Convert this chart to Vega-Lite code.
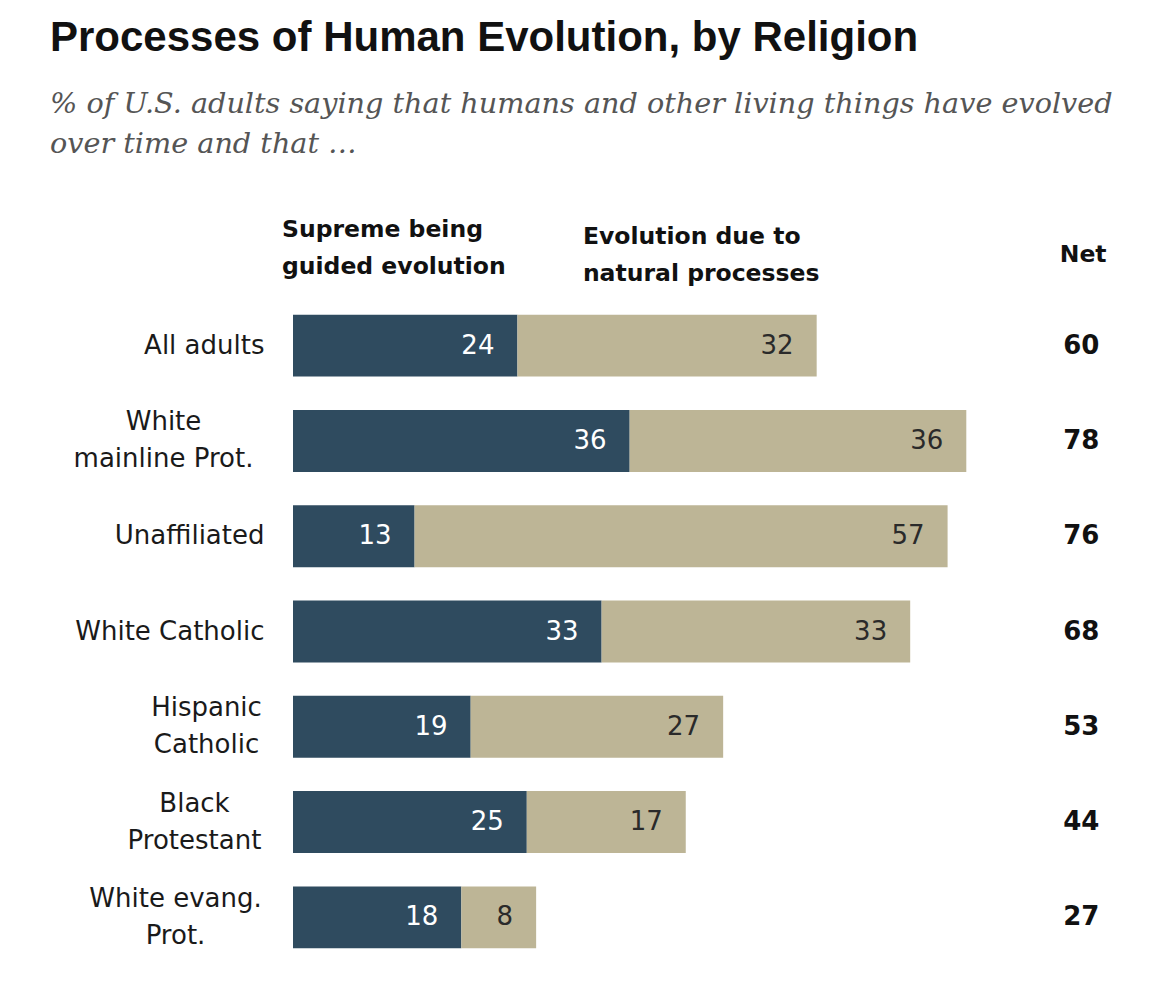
{
  "$schema": "https://vega.github.io/schema/vega-lite/v6.json",
  "width": 865,
  "height": 667,
  "autosize": {"type": "none"},
  "padding": {"left": 293, "top": 298, "right": 0, "bottom": 20},
  "background": "white",
  "config": {"view": {"stroke": null}, "text": {"font": "DejaVu Sans"}},
  "title": {
    "text": "Processes of Human Evolution, by Religion",
    "subtitle": ["% of U.S. adults saying that humans and other living things have evolved", "over time and that …"],
    "anchor": "start",
    "frame": "group",
    "dx": -243,
    "offset": 58,
    "font": "Liberation Sans",
    "fontSize": 42,
    "fontWeight": "bold",
    "color": "#111111",
    "subtitleFont": "DejaVu Serif",
    "subtitleFontStyle": "italic",
    "subtitleFontSize": 28.7,
    "subtitleColor": "#555555",
    "subtitleLineHeight": 40,
    "subtitlePadding": 30
  },
  "datasets": {
    "bars": [
      {"group": "All adults", "series": "Supreme being guided evolution", "order": 1, "value": 24},
      {"group": "All adults", "series": "Evolution due to natural processes", "order": 2, "value": 32},
      {"group": "White|mainline Prot.", "series": "Supreme being guided evolution", "order": 1, "value": 36},
      {"group": "White|mainline Prot.", "series": "Evolution due to natural processes", "order": 2, "value": 36},
      {"group": "Unaffiliated", "series": "Supreme being guided evolution", "order": 1, "value": 13},
      {"group": "Unaffiliated", "series": "Evolution due to natural processes", "order": 2, "value": 57},
      {"group": "White Catholic", "series": "Supreme being guided evolution", "order": 1, "value": 33},
      {"group": "White Catholic", "series": "Evolution due to natural processes", "order": 2, "value": 33},
      {"group": "Hispanic|Catholic", "series": "Supreme being guided evolution", "order": 1, "value": 19},
      {"group": "Hispanic|Catholic", "series": "Evolution due to natural processes", "order": 2, "value": 27},
      {"group": "Black|Protestant", "series": "Supreme being guided evolution", "order": 1, "value": 25},
      {"group": "Black|Protestant", "series": "Evolution due to natural processes", "order": 2, "value": 17},
      {"group": "White evang.|Prot.", "series": "Supreme being guided evolution", "order": 1, "value": 18},
      {"group": "White evang.|Prot.", "series": "Evolution due to natural processes", "order": 2, "value": 8}
    ],
    "net": [
      {"group": "All adults", "net": 60},
      {"group": "White|mainline Prot.", "net": 78},
      {"group": "Unaffiliated", "net": 76},
      {"group": "White Catholic", "net": 68},
      {"group": "Hispanic|Catholic", "net": 53},
      {"group": "Black|Protestant", "net": 44},
      {"group": "White evang.|Prot.", "net": 27}
    ]
  },
  "encoding": {
    "y": {
      "field": "group",
      "type": "nominal",
      "sort": ["All adults", "White|mainline Prot.", "Unaffiliated", "White Catholic", "Hispanic|Catholic", "Black|Protestant", "White evang.|Prot."],
      "scale": {"paddingInner": 0.35, "paddingOuter": 0.175},
      "axis": {
        "title": null,
        "domain": false,
        "ticks": false,
        "labelExpr": "split(datum.value, '|')",
        "labelFont": "DejaVu Sans",
        "labelFontSize": 26,
        "labelColor": "#1a1a1a",
        "labelLineHeight": 37,
        "labelLimit": 0,
        "labelBaseline": "middle",
        "labelOffset": {"condition": {"test": "indexof(datum.value, '|') >= 0", "value": -18.5}, "value": 0},
        "labelAlign": {"condition": {"test": "indexof(datum.value, '|') >= 0", "value": "center"}, "value": "right"},
        "labelPadding": {"condition": [
          {"test": "datum.value === 'White|mainline Prot.'", "value": 130},
          {"test": "datum.value === 'Hispanic|Catholic'", "value": 87},
          {"test": "datum.value === 'Black|Protestant'", "value": 99},
          {"test": "datum.value === 'White evang.|Prot.'", "value": 118}
        ], "value": 29}
      }
    }
  },
  "layer": [
    {
      "data": {"name": "bars"},
      "transform": [{"stack": "value", "groupby": ["group"], "sort": [{"field": "order", "order": "ascending"}], "as": ["x0", "x1"]}],
      "layer": [
        {
          "mark": {"type": "bar"},
          "encoding": {
            "x": {"field": "x0", "type": "quantitative", "scale": {"domain": [0, 92.5], "nice": false, "zero": false}, "axis": null},
            "x2": {"field": "x1"},
            "color": {"field": "series", "type": "nominal", "scale": {"domain": ["Supreme being guided evolution", "Evolution due to natural processes"], "range": ["#2f4b5f", "#bdb596"]}, "legend": null}
          }
        },
        {
          "mark": {"type": "text", "align": "right", "baseline": "middle", "dx": -23, "fontSize": 26},
          "encoding": {
            "x": {"field": "x1", "type": "quantitative"},
            "text": {"field": "value", "type": "quantitative"},
            "color": {"condition": {"test": "datum.order === 1", "value": "#ffffff"}, "value": "#2a2a2a"}
          }
        }
      ]
    },
    {
      "data": {"name": "net"},
      "mark": {"type": "text", "align": "center", "baseline": "middle", "fontSize": 26, "fontWeight": "bold", "color": "#111111"},
      "encoding": {
        "x": {"datum": 84.3, "type": "quantitative"},
        "text": {"field": "net", "type": "quantitative"}
      }
    },
    {
      "data": {"values": [{"label": ["Supreme being", "guided evolution"]}]},
      "mark": {"type": "text", "align": "left", "baseline": "middle", "dx": -11, "dy": -116, "fontSize": 23.5, "fontWeight": "bold", "font": "DejaVu Sans", "lineHeight": 37, "color": "#111111"},
      "encoding": {
        "x": {"datum": 0, "type": "quantitative"},
        "y": {"datum": "All adults", "type": "nominal"},
        "text": {"field": "label"}
      }
    },
    {
      "data": {"values": [{"label": ["Evolution due to", "natural processes"]}]},
      "mark": {"type": "text", "align": "left", "baseline": "middle", "dy": -109, "fontSize": 23.5, "fontWeight": "bold", "font": "DejaVu Sans", "lineHeight": 37, "color": "#111111"},
      "encoding": {
        "x": {"datum": 31, "type": "quantitative"},
        "y": {"datum": "All adults", "type": "nominal"},
        "text": {"field": "label"}
      }
    },
    {
      "data": {"values": [{"label": "Net"}]},
      "mark": {"type": "text", "align": "center", "baseline": "middle", "dy": -91, "fontSize": 23.5, "fontWeight": "bold", "font": "DejaVu Sans", "color": "#111111"},
      "encoding": {
        "x": {"datum": 84.5, "type": "quantitative"},
        "y": {"datum": "All adults", "type": "nominal"},
        "text": {"field": "label"}
      }
    }
  ]
}
